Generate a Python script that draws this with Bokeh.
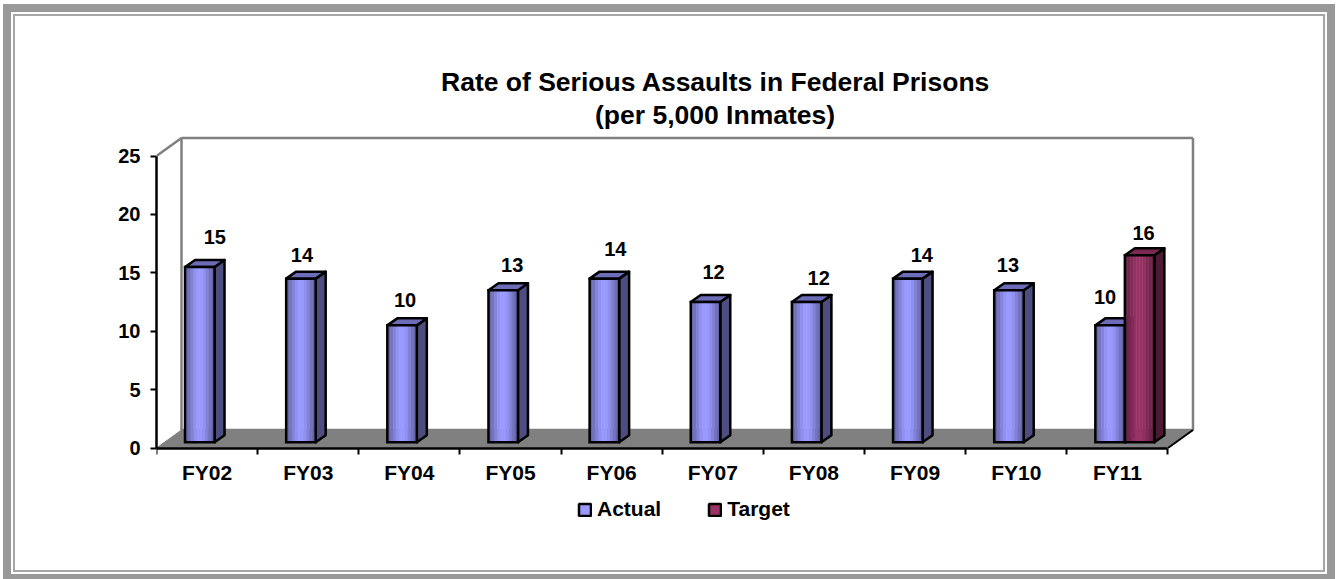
from bokeh.embed import file_html
from bokeh.resources import INLINE
from bokeh.plotting import figure
from bokeh.models import (ColumnDataSource, FixedTicker, Legend, LegendItem, Range1d, Title)
from bokeh.core.properties import value

# ---- data
categories = ["FY02", "FY03", "FY04", "FY05", "FY06", "FY07", "FY08", "FY09", "FY10", "FY11"]
actual = [15, 14, 10, 13, 14, 12, 12, 14, 13, 10]
target_category = "FY11"
target = [16]
y_ticks = [0, 5, 10, 15, 20, 25]
title_lines = ["Rate of Serious Assaults in Federal Prisons", "(per 5,000 Inmates)"]

# ---- layout (pixels, page coordinates)
CX0, CY0, CX1, CY1 = 15, 16, 1323, 570   # canvas inside the framed border
L, R, B, T = 156.5, 1215.0, 525.0, 130.0  # plot frame; it runs down past the axis to hold the legend
Y0 = 447.5      # where y = 0 falls
PX = 101.1      # pixels per category
PY = 11.68      # pixels per y unit
FONT = "Liberation Sans"
BAR_W = 29.5 / PX
BAR_START = 28.5 / PX
LIFT = 0.5                # bars stand inside the floor
DX, DY = 10 / PX, 7 / PY  # bar depth
WX, WY = 25 / PX, 18 / PY # wall depth
GRAY = "#808080"
BORDER = "0 0 0 2px #a6a6a6, 0 0 0 4px #ffffff, 0 0 0 12px #999999"

n = len(categories)
p = figure(width=CX1 - CX0, height=CY1 - CY0, output_backend="svg", toolbar_location=None,
           x_range=Range1d(0, (R - L) / PX), y_range=Range1d((Y0 - B) / PY, (Y0 - T) / PY),
           min_border_left=int(L - CX0), min_border_right=int(CX1 - R),
           min_border_top=int(T - CY0), min_border_bottom=int(CY1 - B),
           outline_line_color=None, background_fill_color="white", border_fill_color="white",
           styles={"position": "absolute", "left": f"{CX0}px", "top": f"{CY0}px", "box-shadow": BORDER})
p.grid.visible = False

# ---- floor and walls
p.patch([0, n, n + WX, WX], [0, 0, WY, WY], fill_color=GRAY, line_color=GRAY, line_width=1)
p.line([0, WX, WX, n + WX, n + WX], [25, 25 + WY, WY, WY, 25 + WY], line_color=GRAY, line_width=2.5)
p.line([WX, n + WX], [25 + WY, 25 + WY], line_color=GRAY, line_width=2.5)
p.line([n, n + WX], [0, WY], line_color="black", line_width=2)

# ---- bars
def shade(c0, c1, t):
    a = [int(c0[i:i + 2], 16) for i in (1, 3, 5)]
    b = [int(c1[i:i + 2], 16) for i in (1, 3, 5)]
    return "#%02x%02x%02x" % tuple(round(a[k] + (b[k] - a[k]) * t) for k in range(3))

def bar(left, val, edge, mid, side, top):
    bottom, high = LIFT, val + LIFT
    right = left + BAR_W
    p.patch([right, right + DX, right + DX, right], [bottom, bottom + DY, high + DY, high],
            fill_color=side, line_color="black", line_width=2.5, line_join="round")
    p.patch([left, left + DX, right + DX, right], [high, high + DY, high + DY, high],
            fill_color=top, line_color="black", line_width=2.5, line_join="round")
    steps = 10
    for k in range(steps):
        t = 1 - abs((k + 0.5) / steps - 0.5) * 2
        t = min(1.0, t * 1.25)
        c = shade(edge, mid, t)
        p.quad(left=left + BAR_W * k / steps, right=left + BAR_W * (k + 1) / steps,
               bottom=bottom, top=high, fill_color=c, line_color=c, line_width=0.5)
    p.quad(left=left, right=right, bottom=bottom, top=high,
           fill_color=None, line_color="black", line_width=2.5, line_join="miter")

A_STYLE = ("#5c5c99", "#9999ff", "#4d4d80", "#6c6cb8")
T_STYLE = ("#5a1e3c", "#993366", "#4d1a33", "#7a2a52")
for i, v in enumerate(actual):
    bar(i + BAR_START, v, *A_STYLE)
for v in target:
    bar(categories.index(target_category) + BAR_START + BAR_W, v, *T_STYLE)

# ---- data labels
label_dx = [15, 1, 3, 9, 11, 8, 12, 14, -1, -5]
label_dy = [-30, -24, -25, -25, -30, -30, -24, -24, -25, -28]
src = ColumnDataSource(dict(
    x=[i + BAR_START + BAR_W / 2 for i in range(n)],
    y=[v + LIFT for v in actual],
    t=[str(v) for v in actual], dx=label_dx, dy=label_dy))
p.text("x", "y", text="t", x_offset="dx", y_offset="dy", source=src,
       text_font=value(FONT), text_font_style="bold", text_font_size="20px",
       text_align="center", text_baseline="middle", text_color="black")
i11 = categories.index(target_category)
p.text([i11 + BAR_START + BAR_W * 1.5], [target[0] + LIFT], text=[str(target[0])],
       x_offset=4, y_offset=-22,
       text_font=value(FONT), text_font_style="bold", text_font_size="20px",
       text_align="center", text_baseline="middle", text_color="black")

# ---- axes
xa = p.xaxis[0]
xa.fixed_location = 0
xa.level = "annotation"
xa.ticker = FixedTicker(ticks=[i + 0.5 for i in range(n)], minor_ticks=list(range(n + 1)))
xa.major_label_overrides = {i + 0.5: c for i, c in enumerate(categories)}
xa.bounds = (0, n)
xa.major_tick_line_color = None
xa.major_tick_out = 0
xa.major_tick_in = 0
xa.minor_tick_out = 6
xa.minor_tick_in = 0
xa.minor_tick_line_color = "black"
xa.minor_tick_line_width = 2
xa.axis_line_color = "black"
xa.axis_line_width = 2.5
xa.major_label_standoff = 7
xa.major_label_text_font = FONT
xa.major_label_text_font_style = "bold"
xa.major_label_text_font_size = "21px"
xa.major_label_text_color = "black"

ya = p.yaxis[0]
ya.ticker = FixedTicker(ticks=y_ticks)
ya.bounds = (0, 25)
ya.minor_tick_line_color = None
ya.major_tick_out = 6
ya.major_tick_in = 0
ya.major_tick_line_color = "black"
ya.major_tick_line_width = 2
ya.axis_line_color = "black"
ya.axis_line_width = 2.5
ya.major_label_standoff = 10
ya.major_label_text_font = FONT
ya.major_label_text_font_style = "bold"
ya.major_label_text_font_size = "20px"
ya.major_label_text_color = "black"

# ---- title: two lines in the panel above the plot, placed by their left edges
title_left = [441, 595]
for line, left in reversed(list(zip(title_lines, title_left))):
    p.add_layout(Title(text=line, align="left", offset=left - L, standoff=1,
                       text_font=FONT, text_font_style="bold", text_font_size="26.5px",
                       text_color="black"), "above")

# ---- legend, inside the lower part of the frame
off = (Y0 - B) / PY * 10
ra = p.quad(left=[0], right=[0.1], bottom=[off - 1], top=[off], fill_color="#9999ff", line_color="black", line_width=2.5)
rt = p.quad(left=[0], right=[0.1], bottom=[off - 1], top=[off], fill_color="#993366", line_color="black", line_width=2.5)
leg = Legend(items=[LegendItem(label="Actual", renderers=[ra]), LegendItem(label="Target", renderers=[rt])],
             orientation="horizontal", location=(421, 4), spacing=46, glyph_width=15, glyph_height=15,
             label_standoff=5, background_fill_alpha=0, border_line_color=None,
             label_text_font=FONT, label_text_font_style="bold", label_text_font_size="21px",
             label_text_color="black", margin=0, padding=0)
p.add_layout(leg)

open("out.html", "w").write(file_html(p, INLINE))
